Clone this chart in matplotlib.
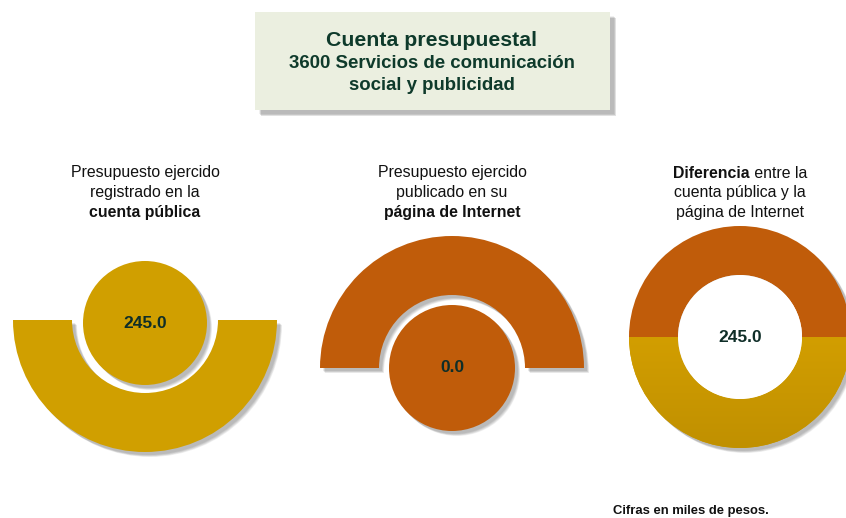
import numpy as np
import matplotlib.pyplot as plt
from matplotlib.patches import Wedge, Circle, Rectangle
from matplotlib.colors import LinearSegmentedColormap

# --- data ---
values = [245.0, 0.0, 245.0]
donut_split = [1, 1]   # Internet (top), cuenta pública (bottom)
title_lines = ["Cuenta presupuestal", "3600 Servicios de comunicación", "social y publicidad"]
panel_labels = [
    [("Presupuesto ejercido", ""), ("registrado en la", ""), ("", "cuenta pública")],
    [("Presupuesto ejercido", ""), ("publicado en su", ""), ("", "página de Internet")],
    [(" entre la", "Diferencia"), ("cuenta pública y la", ""), ("página de Internet", "")],
]
footer = "Cifras en miles de pesos."

W, H = 846, 518
GOLD = "#D09F00"
GOLD_DARK = "#C09000"
ORANGE = "#C05C0A"
TXT = "#0F2E28"
TITLE_C = "#0E3A2B"

plt.rcParams['font.family'] = ['Liberation Sans', 'DejaVu Sans']

fig = plt.figure(figsize=(W / 100, H / 100), dpi=100)
ax = fig.add_axes([0, 0, 1, 1])


def Y(py):
    # picture rows -> data y
    return H - py


def shadow(make, dx=3, dy=-3, layers=5):
    for i in range(layers):
        p = make(dx + i * 0.5, dy - i * 0.5)
        p.set_facecolor('#000000')
        p.set_alpha(0.06)
        p.set_edgecolor('none')
        ax.add_patch(p)


# panel 3: donut (pie first, then fix the axes)
c3 = (740, Y(337))
r_out, r_in = 111, 62
shadow(lambda dx, dy: Wedge((c3[0] + dx, c3[1] + dy), r_out, 0, 360, width=r_out - r_in))
wedges, _ = ax.pie(donut_split, colors=[ORANGE, GOLD], startangle=0, counterclock=True,
                   center=c3, radius=r_out, frame=True,
                   wedgeprops=dict(width=r_out - r_in, edgecolor='none'))
ax.set_xlim(0, W)
ax.set_ylim(0, H)
ax.set_aspect('auto')
ax.axis('off')
grad = np.linspace(0, 1, 256).reshape(-1, 1)
cmap = LinearSegmentedColormap.from_list('g', [GOLD_DARK, "#D29E00"])
im = ax.imshow(grad, cmap=cmap, origin='lower', aspect='auto',
               extent=(c3[0] - r_out, c3[0] + r_out, c3[1] - r_out, c3[1]), zorder=2)
im.set_clip_path(wedges[1])
ax.add_patch(Circle(c3, r_in, facecolor='white', edgecolor='none', zorder=3))
ax.text(c3[0], c3[1], f"{values[2]:.1f}", ha='center', va='center',
        fontsize=12.5, fontweight='bold', color=TXT, zorder=4)
ax.set_xlim(0, W)
ax.set_ylim(0, H)

# title box
bx, by, bw, bh = 255, 12, 355, 98
shadow(lambda dx, dy: Rectangle((bx + dx, Y(by + bh) + dy), bw, bh), dx=4, dy=-4)
ax.add_patch(Rectangle((bx, Y(by + bh)), bw, bh, facecolor="#EBEFE0", edgecolor='none'))
ax.text(432, Y(40), title_lines[0], ha='center', va='center', fontsize=15.3,
        fontweight='bold', color=TITLE_C)
ax.text(432, Y(63), title_lines[1], ha='center', va='center', fontsize=13.4,
        fontweight='bold', color=TITLE_C)
ax.text(432, Y(86), title_lines[2], ha='center', va='center', fontsize=13.4,
        fontweight='bold', color=TITLE_C)

# panel 1: half ring below, circle on top
c1 = (145, Y(320))
shadow(lambda dx, dy: Wedge((c1[0] + dx, c1[1] + dy), 132, 180, 360, width=59))
ax.add_patch(Wedge(c1, 132, 180, 360, width=59, facecolor=GOLD, edgecolor='none'))
cc1 = (145, Y(323))
shadow(lambda dx, dy: Circle((cc1[0] + dx, cc1[1] + dy), 62))
ax.add_patch(Circle(cc1, 62, facecolor=GOLD, edgecolor='none'))
ax.text(cc1[0], cc1[1], f"{values[0]:.1f}", ha='center', va='center',
        fontsize=12.5, fontweight='bold', color=TXT)

# panel 2: half ring on top, circle below
c2 = (452, Y(368))
shadow(lambda dx, dy: Wedge((c2[0] + dx, c2[1] + dy), 132, 0, 180, width=59))
ax.add_patch(Wedge(c2, 132, 0, 180, width=59, facecolor=ORANGE, edgecolor='none'))
cc2 = (452, Y(368))
shadow(lambda dx, dy: Circle((cc2[0] + dx, cc2[1] + dy), 63))
ax.add_patch(Circle(cc2, 63, facecolor=ORANGE, edgecolor='none'))
ax.text(cc2[0], cc2[1], f"{values[1]:.1f}", ha='center', va='center',
        fontsize=12.5, fontweight='bold', color=TXT)

# panel labels
fig.canvas.draw()
renderer = fig.canvas.get_renderer()
label_x = [145, 452, 740]
label_y = [173, 192, 212]
LFS = 11.4
for px, lines in zip(label_x, panel_labels):
    for py, (reg, bold) in zip(label_y, lines):
        if bold and reg:
            tb = ax.text(0, Y(py), bold, ha='left', va='center', fontsize=LFS,
                         fontweight='bold', color='#111111')
            tr = ax.text(0, Y(py), reg, ha='left', va='center', fontsize=LFS,
                         color='#111111')
            wb = tb.get_window_extent(renderer).width
            wr = tr.get_window_extent(renderer).width
            x0 = px - (wb + wr) / 2
            tb.set_x(x0)
            tr.set_x(x0 + wb)
        elif bold:
            ax.text(px, Y(py), bold, ha='center', va='center', fontsize=LFS,
                    fontweight='bold', color='#111111')
        else:
            ax.text(px, Y(py), reg, ha='center', va='center', fontsize=LFS,
                    color='#111111')

ax.text(691, Y(511), footer, ha='center', va='center', fontsize=9.4,
        fontweight='bold', color='#111111')

fig.savefig('out.png', dpi=100)
